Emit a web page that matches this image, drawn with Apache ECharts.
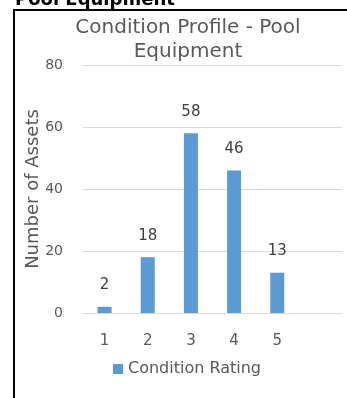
<!DOCTYPE html>
<html>
<head>
<meta charset="utf-8">
<script src="https://cdn.jsdelivr.net/npm/echarts@6/dist/echarts.min.js"></script>
<style>
  html, body { margin: 0; padding: 0; background: #fff; }
  #chart { width: 347px; height: 398px; }
</style>
</head>
<body>
<div id="chart"></div>
<script>
// Condition rating categories (the last slot is an empty spacer on the axis)
const ratings = ['1', '2', '3', '4', '5', ''];
// Number of assets per condition rating
const assetCounts = [2, 18, 58, 46, 13, null];
// Value axis ticks
const yMin = 0;
const yMax = 80;
const yStep = 20;

const FONT = '"DejaVu Sans", "Open Sans", sans-serif';
const chart = echarts.init(document.getElementById('chart'), null, { renderer: 'canvas' });

chart.setOption({
  animation: false,
  backgroundColor: '#ffffff',
  title: {
    text: 'Condition Profile - Pool\nEquipment',
    left: 183,
    top: 11,
    textAlign: 'center',
    textStyle: {
      fontFamily: FONT,
      fontSize: 20,
      fontWeight: 'normal',
      color: '#595959',
      lineHeight: 24
    }
  },
  graphic: [
    {
      type: 'rect',
      shape: { x: 14, y: 10, width: 420, height: 420 },
      style: { fill: 'none', stroke: '#000000', lineWidth: 2 },
      silent: true,
      z: 10
    },
    {
      type: 'text',
      x: 15,
      y: 0,
      style: {
        text: 'Pool Equipment',
        font: 'bold 18px "DejaVu Sans", sans-serif',
        fill: '#000000',
        verticalAlign: 'middle'
      },
      silent: true
    }
  ],
  legend: {
    left: 113,
    top: 361,
    padding: 0,
    icon: 'rect',
    itemWidth: 10,
    itemHeight: 10,
    itemGap: 10,
    textStyle: { fontFamily: FONT, fontSize: 16, color: '#595959' },
    data: ['Condition Rating']
  },
  grid: { left: 83, right: 5, top: 65, bottom: 85, containLabel: false },
  xAxis: {
    type: 'category',
    data: ratings,
    boundaryGap: true,
    axisLine: { show: true, lineStyle: { color: '#d9d9d9', width: 1 } },
    axisTick: { show: false },
    axisLabel: { margin: 21, fontFamily: FONT, fontSize: 15, color: '#595959' }
  },
  yAxis: {
    type: 'value',
    min: yMin,
    max: yMax,
    interval: yStep,
    name: 'Number of Assets',
    nameLocation: 'middle',
    nameGap: 41,
    nameMoveOverlap: false,
    nameTextStyle: { fontFamily: FONT, fontSize: 18, color: '#595959' },
    axisLine: { show: false },
    axisTick: { show: false },
    axisLabel: { margin: 20, fontFamily: FONT, fontSize: 14, color: '#595959' },
    splitLine: { lineStyle: { color: '#d9d9d9', width: 1 } }
  },
  series: [
    {
      name: 'Condition Rating',
      type: 'bar',
      data: assetCounts,
      barWidth: 14,
      itemStyle: { color: '#5b9bd5' },
      label: {
        show: true,
        position: 'top',
        distance: 14,
        fontFamily: FONT,
        fontSize: 15,
        color: '#404040'
      }
    }
  ]
});
</script>
</body>
</html>
